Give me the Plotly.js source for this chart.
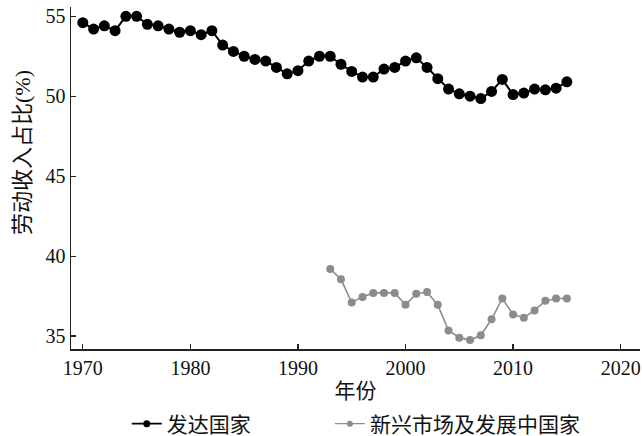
<!DOCTYPE html>
<html>
<head>
<meta charset="utf-8">
<script src="https://cdn.plot.ly/plotly-3.0.1.min.js"></script>
<style>
  html, body { margin: 0; padding: 0; background: #fff; }
  #chart { width: 642px; height: 436px; }
</style>
</head>
<body>
<div id="chart"></div>
<script>
// 劳动收入占比
const devYears = [1970, 1971, 1972, 1973, 1974, 1975, 1976, 1977, 1978, 1979,
  1980, 1981, 1982, 1983, 1984, 1985, 1986, 1987, 1988, 1989,
  1990, 1991, 1992, 1993, 1994, 1995, 1996, 1997, 1998, 1999,
  2000, 2001, 2002, 2003, 2004, 2005, 2006, 2007, 2008, 2009,
  2010, 2011, 2012, 2013, 2014, 2015];
const devShare = [54.6, 54.2, 54.4, 54.1, 55.0, 55.0, 54.5, 54.4, 54.2, 54.0,
  54.1, 53.85, 54.1, 53.2, 52.8, 52.5, 52.3, 52.2, 51.8, 51.4,
  51.6, 52.2, 52.5, 52.5, 52.0, 51.55, 51.2, 51.2, 51.7, 51.8,
  52.2, 52.4, 51.8, 51.1, 50.45, 50.15, 50.0, 49.85, 50.3, 51.05,
  50.1, 50.2, 50.45, 50.4, 50.5, 50.9];

const emgYears = [1993, 1994, 1995, 1996, 1997, 1998, 1999, 2000, 2001, 2002,
  2003, 2004, 2005, 2006, 2007, 2008, 2009, 2010, 2011, 2012,
  2013, 2014, 2015];
const emgShare = [39.2, 38.55, 37.1, 37.45, 37.7, 37.7, 37.7, 36.95, 37.65, 37.75,
  36.95, 35.35, 34.9, 34.75, 35.05, 36.05, 37.35, 36.35, 36.15, 36.6,
  37.2, 37.35, 37.35];

const seriesNames = ['发达国家', '新兴市场及发展中国家'];
const yTicks = [35, 40, 45, 50, 55];
const xTicks = [1970, 1980, 1990, 2000, 2010, 2020];

const FONT = 'Liberation Serif, "Noto Sans CJK SC", serif';
const DEV_COLOR = '#000';
const EMG_COLOR = '#8c8c8c';

// data traces; the legend gets its own empty entries so its markers stay small
const traces = [
  {
    type: 'scatter', mode: 'lines+markers',
    x: devYears, y: devShare, showlegend: false,
    line: { color: DEV_COLOR, width: 2 },
    marker: { color: DEV_COLOR, size: 11 }
  },
  {
    type: 'scatter', mode: 'lines+markers',
    x: emgYears, y: emgShare, showlegend: false,
    line: { color: EMG_COLOR, width: 1.6 },
    marker: { color: EMG_COLOR, size: 8 }
  },
  {
    type: 'scatter', mode: 'lines+markers', name: seriesNames[0],
    x: [null], y: [null], legend: 'legend',
    line: { color: DEV_COLOR, width: 1.6 },
    marker: { color: DEV_COLOR, size: 7 }
  },
  {
    type: 'scatter', mode: 'lines+markers', name: seriesNames[1],
    x: [null], y: [null], legend: 'legend2',
    line: { color: EMG_COLOR, width: 1.4 },
    marker: { color: EMG_COLOR, size: 6 }
  }
];

const axisCommon = {
  showline: true, linecolor: '#222', linewidth: 1.5,
  ticks: 'inside', ticklen: 5, tickwidth: 1.2, tickcolor: '#222',
  showgrid: false, zeroline: false,
  tickfont: { family: FONT, size: 20, color: '#111' }
};

const legendCommon = {
  orientation: 'h', xanchor: 'left',
  yref: 'container', y: 0.0275, yanchor: 'middle',
  bgcolor: 'rgba(0,0,0,0)',
  font: { family: FONT, size: 21, color: '#111' }
};

const layout = {
  width: 642, height: 436,
  paper_bgcolor: '#fff', plot_bgcolor: '#fff',
  font: { family: FONT, color: '#111', size: 20 },
  margin: { l: 71, r: 2, t: 7, b: 87, autoexpand: false },
  xaxis: Object.assign({}, axisCommon, {
    range: [1968.9, 2021.8],
    tickvals: xTicks,
    title: { text: '年份', font: { family: FONT, size: 21 }, standoff: 6 }
  }),
  yaxis: Object.assign({}, axisCommon, {
    range: [34.19, 55.58],
    tickvals: yTicks
  }),
  annotations: [{
    text: '劳动收入占比(%)', textangle: -90,
    xref: 'paper', yref: 'paper', x: -0.085, y: 0.575,
    xanchor: 'center', yanchor: 'middle', showarrow: false,
    font: { family: FONT, size: 22, color: '#111' }
  }],
  showlegend: true,
  legend: Object.assign({}, legendCommon, { x: 0.098 }),
  legend2: Object.assign({}, legendCommon, { x: 0.455 })
};

Plotly.newPlot('chart', traces, layout, { displayModeBar: false, staticPlot: true });
</script>
</body>
</html>
